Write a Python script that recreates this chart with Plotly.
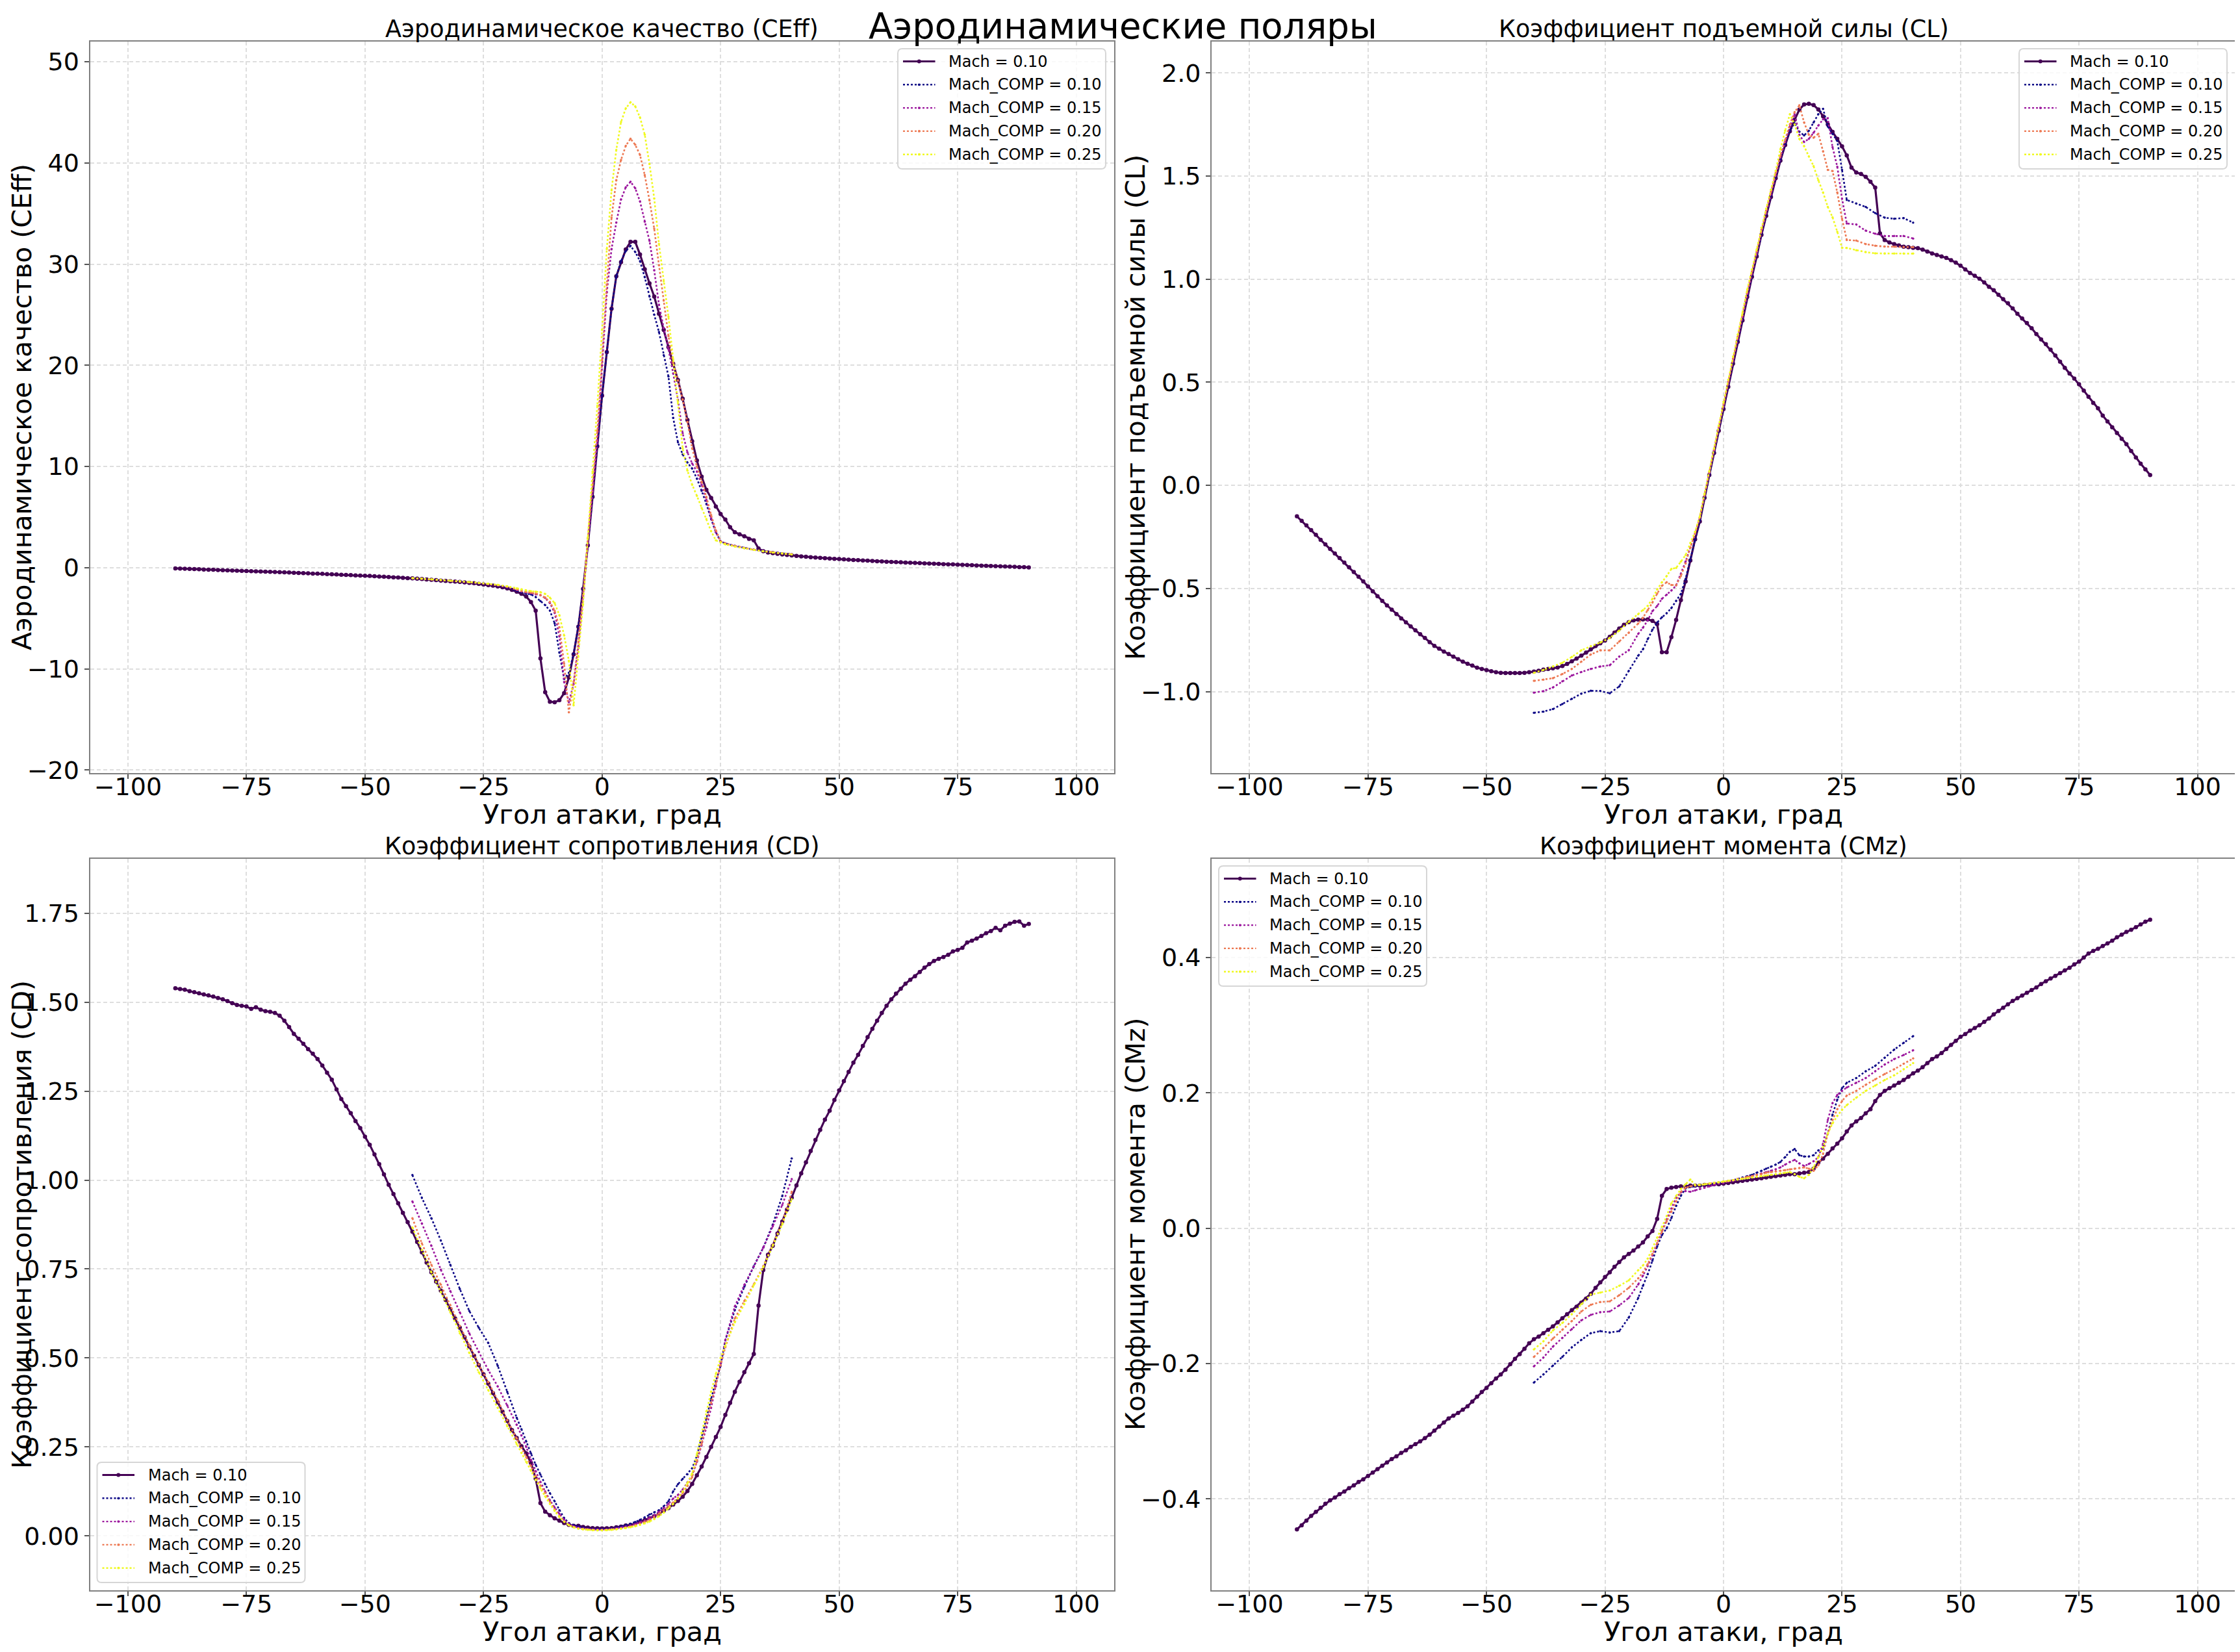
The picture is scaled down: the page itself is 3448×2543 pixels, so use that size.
import plotly.graph_objects as go

# ---------------- data ----------------
MAIN_X = list(range(-90, 91))
COMP_X = [-40, -38, -36, -34, -32, -30, -28, -26, -24, -22, -20, -18] + list(range(-17, 27)) + [28, 30, 32, 34, 36, 38, 40]

MACH_LABELS = ["Mach = 0.10", "Mach_COMP = 0.10", "Mach_COMP = 0.15", "Mach_COMP = 0.20", "Mach_COMP = 0.25"]

CEFF_MAIN = [
    -0.07, -0.09, -0.11, -0.12, -0.14, -0.16, -0.18, -0.20, -0.21, -0.23,
    -0.25, -0.26, -0.28, -0.30, -0.31, -0.33, -0.35, -0.36, -0.38, -0.40,
    -0.41, -0.42, -0.44, -0.46, -0.48, -0.50, -0.52, -0.54, -0.56, -0.58,
    -0.59, -0.61, -0.63, -0.65, -0.67, -0.70, -0.72, -0.74, -0.76, -0.78,
    -0.80, -0.82, -0.85, -0.87, -0.90, -0.92, -0.95, -0.97, -1.00, -1.03,
    -1.06, -1.09, -1.12, -1.16, -1.20, -1.23, -1.27, -1.31, -1.34, -1.38,
    -1.41, -1.45, -1.50, -1.54, -1.60, -1.66, -1.72, -1.78, -1.85, -1.94,
    -2.05, -2.20, -2.37, -2.58, -2.85, -3.39, -4.24, -8.96, -12.3, -13.25,
    -13.3, -13.1, -12.4, -10.85, -8.57, -5.83, -2.1, 2.2, 7.0, 12.0,
    17.0, 21.3, 25.6, 28.8, 30.2, 31.45, 32.2, 32.2, 30.95, 29.5,
    28.1, 26.8, 25.1, 23.5, 21.8, 20.15, 18.55, 16.7, 14.6, 12.5,
    10.6, 9.0, 7.7, 6.9, 6.05, 5.3, 4.75, 4.0, 3.5, 3.3,
    3.1, 2.85, 2.7, 1.9, 1.62, 1.5, 1.44, 1.37, 1.31, 1.26,
    1.21, 1.17, 1.12, 1.08, 1.04, 1.00, 0.97, 0.94, 0.91, 0.88,
    0.85, 0.82, 0.79, 0.76, 0.74, 0.71, 0.69, 0.66, 0.64, 0.61,
    0.59, 0.57, 0.55, 0.53, 0.51, 0.49, 0.47, 0.45, 0.43, 0.41,
    0.39, 0.37, 0.35, 0.33, 0.32, 0.30, 0.28, 0.26, 0.24, 0.22,
    0.20, 0.18, 0.17, 0.15, 0.13, 0.12, 0.10, 0.08, 0.06, 0.05,
    0.03,
]
CEFF_C010 = [-1.05, -1.11, -1.18, -1.25, -1.32, -1.39, -1.47, -1.56, -1.67, -1.80, -1.98, -2.28,
             -2.45, -2.55, -2.65, -2.9, -3.3, -3.7, -4.24, -5.5, -8.4, -11.0, -10.4, -8.5, -5.8, -2.1, 2.2, 7.0, 12.0,
             17.0, 21.3, 25.6, 28.8, 30.3, 31.3, 31.8, 31.2, 30.3, 28.7, 26.8, 25.0, 23.3, 21.0,
             18.9, 14.8, 12.4, 11.2, 10.4, 9.8, 8.8, 7.6, 6.3, 4.8, 3.5, 2.6, 2.4,
             2.15, 1.95, 1.78, 1.64, 1.52, 1.42, 1.33]
CEFF_C015 = [-1.04, -1.10, -1.17, -1.24, -1.31, -1.37, -1.45, -1.54, -1.64, -1.76, -1.93, -2.20,
             -2.35, -2.45, -2.52, -2.62, -2.72, -3.0, -3.5, -4.46, -6.8, -11.3, -13.3, -11.5, -7.8, -2.8, 2.5, 7.5, 12.5,
             20.0, 27.2, 31.5, 34.1, 36.4, 37.6, 38.15, 37.5, 36.2, 34.2, 32.3, 29.4, 26.0, 23.7,
             21.6, 19.2, 16.6, 13.3, 11.4, 10.3, 9.5, 8.2, 6.7, 4.9, 3.5, 2.6, 2.4,
             2.15, 1.95, 1.78, 1.64, 1.52, 1.42, 1.33]
CEFF_C020 = [-1.04, -1.09, -1.16, -1.23, -1.30, -1.36, -1.44, -1.52, -1.62, -1.73, -1.89, -2.15,
             -2.3, -2.4, -2.46, -2.55, -2.7, -2.95, -3.39, -4.24, -5.9, -9.5, -14.3, -11.3, -7.3, -2.7, 2.9, 8.2, 13.5,
             20.5, 28.0, 34.6, 38.3, 40.3, 41.7, 42.4, 41.8, 40.8, 38.8, 36.3, 33.5, 29.9, 26.4,
             22.9, 20.2, 18.5, 16.6, 14.4, 11.8, 10.0, 8.5, 7.0, 5.2, 3.7, 2.6, 2.4,
             2.14, 1.94, 1.77, 1.63, 1.51, 1.41, 1.32]
CEFF_C025 = [-1.03, -1.09, -1.15, -1.22, -1.29, -1.35, -1.42, -1.50, -1.59, -1.70, -1.84, -2.05,
             -2.15, -2.25, -2.32, -2.37, -2.42, -2.6, -2.96, -3.5, -4.7, -6.7, -9.2, -13.6, -8.8, -3.6, 3.0, 9.5, 16.0,
             23.5, 31.5, 37.3, 41.3, 44.05, 45.4, 46.0, 45.6, 44.5, 42.8, 39.9, 36.5, 32.0, 28.3,
             24.8, 20.6, 16.4, 11.8, 9.6, 8.2, 7.1, 5.9, 4.8, 3.6, 2.7, 2.5, 2.3,
             2.1, 1.92, 1.76, 1.62, 1.50, 1.40, 1.31]

CL_MAIN = [
    -0.150, -0.172, -0.194, -0.217, -0.240, -0.264, -0.286, -0.308, -0.330, -0.352,
    -0.374, -0.397, -0.420, -0.443, -0.466, -0.490, -0.514, -0.537, -0.560, -0.582,
    -0.603, -0.624, -0.645, -0.664, -0.684, -0.703, -0.722, -0.740, -0.760, -0.778,
    -0.792, -0.806, -0.818, -0.830, -0.843, -0.855, -0.865, -0.874, -0.884, -0.890,
    -0.896, -0.901, -0.906, -0.909, -0.910, -0.910, -0.910, -0.910, -0.909, -0.906,
    -0.903, -0.899, -0.893, -0.890, -0.887, -0.883, -0.876, -0.866, -0.853, -0.840,
    -0.826, -0.811, -0.795, -0.779, -0.766, -0.752, -0.734, -0.714, -0.694, -0.676,
    -0.663, -0.655, -0.651, -0.650, -0.650, -0.657, -0.673, -0.809, -0.809, -0.736,
    -0.652, -0.556, -0.466, -0.364, -0.262, -0.175, -0.060, 0.050, 0.157, 0.265,
    0.370, 0.478, 0.590, 0.696, 0.800, 0.914, 1.012, 1.110, 1.215, 1.307,
    1.398, 1.490, 1.575, 1.650, 1.717, 1.773, 1.822, 1.847, 1.850, 1.844,
    1.823, 1.790, 1.750, 1.714, 1.680, 1.644, 1.600, 1.541, 1.517, 1.510,
    1.496, 1.472, 1.444, 1.222, 1.190, 1.178, 1.170, 1.164, 1.157, 1.155,
    1.152, 1.150, 1.143, 1.134, 1.124, 1.117, 1.110, 1.103, 1.092, 1.080,
    1.065, 1.047, 1.030, 1.016, 1.002, 0.984, 0.963, 0.946, 0.924, 0.903,
    0.883, 0.858, 0.832, 0.809, 0.787, 0.762, 0.734, 0.708, 0.685, 0.658,
    0.630, 0.600, 0.570, 0.542, 0.518, 0.490, 0.460, 0.430, 0.400, 0.374,
    0.338, 0.310, 0.282, 0.254, 0.226, 0.200, 0.167, 0.135, 0.105, 0.078,
    0.050,
]
CL_C010 = [-1.103, -1.097, -1.085, -1.06, -1.035, -1.01, -0.996, -0.997, -1.008, -0.975, -0.90, -0.826,
           -0.795, -0.745, -0.70, -0.665, -0.64, -0.62, -0.595, -0.56, -0.526, -0.453, -0.36, -0.265, -0.17, -0.06, 0.05, 0.16, 0.27,
           0.375, 0.483, 0.593, 0.70, 0.805, 0.918, 1.017, 1.115, 1.22, 1.312, 1.403, 1.494, 1.58, 1.655,
           1.72, 1.755, 1.715, 1.697, 1.72, 1.76, 1.80, 1.826, 1.74, 1.705, 1.67, 1.53, 1.384,
           1.367, 1.35, 1.32, 1.298, 1.293, 1.296, 1.274]
CL_C015 = [-1.005, -0.998, -0.98, -0.95, -0.922, -0.905, -0.89, -0.878, -0.872, -0.83, -0.80, -0.72,
           -0.69, -0.655, -0.61, -0.585, -0.55, -0.53, -0.51, -0.485, -0.43, -0.369, -0.30, -0.235, -0.155, -0.05, 0.06, 0.17, 0.28,
           0.385, 0.493, 0.605, 0.711, 0.815, 0.929, 1.027, 1.125, 1.23, 1.322, 1.413, 1.505, 1.59, 1.665,
           1.74, 1.80, 1.70, 1.665, 1.68, 1.71, 1.745, 1.775, 1.78, 1.64, 1.545, 1.39, 1.27,
           1.265, 1.235, 1.22, 1.209, 1.209, 1.209, 1.197]
CL_C020 = [-0.948, -0.942, -0.935, -0.915, -0.89, -0.855, -0.82, -0.80, -0.80, -0.757, -0.715, -0.67,
           -0.642, -0.605, -0.568, -0.525, -0.487, -0.47, -0.483, -0.484, -0.44, -0.379, -0.30, -0.235, -0.155, -0.045, 0.065, 0.175, 0.285,
           0.395, 0.503, 0.615, 0.721, 0.825, 0.939, 1.037, 1.135, 1.24, 1.332, 1.423, 1.515, 1.60, 1.675,
           1.75, 1.81, 1.843, 1.76, 1.70, 1.686, 1.705, 1.62, 1.53, 1.524, 1.42, 1.293, 1.19,
           1.187, 1.17, 1.162, 1.158, 1.157, 1.156, 1.155]
CL_C025 = [-0.909, -0.895, -0.878, -0.86, -0.832, -0.80, -0.78, -0.762, -0.74, -0.704, -0.662, -0.625,
           -0.605, -0.585, -0.55, -0.505, -0.47, -0.44, -0.405, -0.40, -0.37, -0.338, -0.28, -0.225, -0.15, -0.04, 0.07, 0.18, 0.29,
           0.405, 0.513, 0.625, 0.731, 0.835, 0.949, 1.047, 1.145, 1.25, 1.342, 1.433, 1.525, 1.63, 1.72,
           1.80, 1.75, 1.68, 1.645, 1.595, 1.548, 1.48, 1.42, 1.35, 1.30, 1.23, 1.152, 1.151,
           1.14, 1.131, 1.125, 1.124, 1.124, 1.124, 1.124]

CD_MAIN = [
    1.539, 1.537, 1.535, 1.531, 1.528, 1.525, 1.522, 1.519, 1.516, 1.512,
    1.508, 1.503, 1.497, 1.492, 1.490, 1.488, 1.481, 1.486, 1.479, 1.475,
    1.473, 1.470, 1.462, 1.448, 1.430, 1.411, 1.397, 1.383, 1.368, 1.355,
    1.340, 1.322, 1.302, 1.282, 1.255, 1.228, 1.208, 1.188, 1.166, 1.146,
    1.122, 1.099, 1.072, 1.045, 1.016, 0.987, 0.961, 0.935, 0.908, 0.882,
    0.855, 0.826, 0.797, 0.768, 0.741, 0.715, 0.689, 0.663, 0.637, 0.611,
    0.585, 0.558, 0.532, 0.506, 0.480, 0.454, 0.428, 0.401, 0.375, 0.349,
    0.323, 0.297, 0.275, 0.252, 0.232, 0.205, 0.161, 0.092, 0.068, 0.058,
    0.049, 0.043, 0.036, 0.031, 0.028, 0.028, 0.025, 0.023, 0.022, 0.0215,
    0.021, 0.0215, 0.022, 0.024, 0.026, 0.029, 0.031, 0.034, 0.039, 0.044,
    0.049, 0.055, 0.062, 0.070, 0.078, 0.088, 0.098, 0.110, 0.126, 0.146,
    0.170, 0.195, 0.222, 0.250, 0.278, 0.306, 0.340, 0.374, 0.405, 0.433,
    0.460, 0.485, 0.511, 0.647, 0.747, 0.790, 0.815, 0.850, 0.883, 0.917,
    0.951, 0.985, 1.019, 1.050, 1.082, 1.113, 1.141, 1.170, 1.195, 1.225,
    1.252, 1.278, 1.304, 1.330, 1.352, 1.377, 1.402, 1.425, 1.448, 1.470,
    1.490, 1.508, 1.524, 1.538, 1.552, 1.563, 1.573, 1.585, 1.597, 1.607,
    1.616, 1.622, 1.627, 1.633, 1.643, 1.647, 1.653, 1.668, 1.673, 1.679,
    1.686, 1.694, 1.700, 1.709, 1.702, 1.715, 1.721, 1.726, 1.727, 1.715,
    1.720,
]
CD_C010 = [1.014, 0.95, 0.893, 0.83, 0.762, 0.694, 0.632, 0.585, 0.542, 0.478, 0.405, 0.332,
           0.30, 0.265, 0.232, 0.20, 0.172, 0.145, 0.12, 0.097, 0.072, 0.05, 0.036, 0.03, 0.026, 0.023, 0.021, 0.02, 0.0195,
           0.0195, 0.02, 0.021, 0.023, 0.026, 0.03, 0.034, 0.039, 0.045, 0.052, 0.06, 0.066, 0.072, 0.083,
           0.097, 0.125, 0.145, 0.16, 0.173, 0.19, 0.225, 0.275, 0.33, 0.385, 0.435, 0.478, 0.55,
           0.635, 0.70, 0.758, 0.81, 0.875, 0.955, 1.061]
CD_C015 = [0.94, 0.878, 0.815, 0.748, 0.688, 0.628, 0.569, 0.517, 0.466, 0.42, 0.367, 0.312,
           0.282, 0.25, 0.214, 0.182, 0.152, 0.125, 0.10, 0.08, 0.062, 0.045, 0.034, 0.027, 0.023, 0.021, 0.019, 0.018, 0.0175,
           0.0175, 0.018, 0.019, 0.021, 0.023, 0.026, 0.029, 0.033, 0.038, 0.043, 0.05, 0.058, 0.068, 0.078,
           0.09, 0.105, 0.115, 0.13, 0.15, 0.172, 0.208, 0.255, 0.305, 0.36, 0.42, 0.485, 0.55,
           0.645, 0.705, 0.757, 0.81, 0.87, 0.93, 1.003]
CD_C020 = [0.893, 0.822, 0.762, 0.706, 0.648, 0.59, 0.535, 0.482, 0.432, 0.381, 0.325, 0.274,
           0.248, 0.222, 0.196, 0.168, 0.142, 0.121, 0.096, 0.075, 0.055, 0.04, 0.03, 0.025, 0.021, 0.019, 0.018, 0.017, 0.0165,
           0.0165, 0.017, 0.018, 0.019, 0.021, 0.023, 0.026, 0.03, 0.034, 0.039, 0.045, 0.053, 0.062, 0.072,
           0.082, 0.094, 0.107, 0.12, 0.14, 0.165, 0.21, 0.26, 0.32, 0.375, 0.43, 0.48, 0.53,
           0.611, 0.66, 0.707, 0.758, 0.818, 0.88, 0.967]
CD_C025 = [0.867, 0.803, 0.741, 0.686, 0.628, 0.569, 0.514, 0.46, 0.41, 0.36, 0.308, 0.258,
           0.233, 0.208, 0.183, 0.158, 0.133, 0.111, 0.09, 0.07, 0.053, 0.04, 0.03, 0.024, 0.02, 0.018, 0.017, 0.016, 0.0155,
           0.0155, 0.016, 0.017, 0.018, 0.02, 0.022, 0.024, 0.027, 0.031, 0.035, 0.04, 0.047, 0.055, 0.065,
           0.077, 0.09, 0.105, 0.125, 0.148, 0.175, 0.23, 0.29, 0.35, 0.405, 0.455, 0.5, 0.535,
           0.6, 0.652, 0.705, 0.755, 0.815, 0.875, 0.946]

CMZ_MAIN = [
    -0.445, -0.439, -0.432, -0.425, -0.419, -0.413, -0.407, -0.402, -0.398, -0.393,
    -0.389, -0.384, -0.380, -0.375, -0.371, -0.366, -0.361, -0.356, -0.351, -0.346,
    -0.341, -0.337, -0.332, -0.328, -0.323, -0.319, -0.315, -0.310, -0.305, -0.299,
    -0.293, -0.287, -0.281, -0.277, -0.273, -0.268, -0.263, -0.256, -0.249, -0.242,
    -0.236, -0.229, -0.222, -0.216, -0.209, -0.201, -0.193, -0.186, -0.178, -0.170,
    -0.164, -0.160, -0.155, -0.150, -0.145, -0.139, -0.133, -0.127, -0.121, -0.116,
    -0.110, -0.104, -0.097, -0.088, -0.080, -0.072, -0.065, -0.057, -0.050, -0.043,
    -0.038, -0.033, -0.027, -0.021, -0.012, -0.004, 0.014, 0.048, 0.058, 0.060,
    0.061, 0.062, 0.062, 0.063, 0.063, 0.063, 0.064, 0.064, 0.065, 0.065,
    0.066, 0.067, 0.068, 0.069, 0.070, 0.071, 0.072, 0.073, 0.074, 0.075,
    0.076, 0.077, 0.078, 0.079, 0.080, 0.080, 0.081, 0.082, 0.083, 0.088,
    0.097, 0.103, 0.110, 0.118, 0.125, 0.133, 0.143, 0.152, 0.158, 0.163,
    0.170, 0.176, 0.188, 0.197, 0.203, 0.207, 0.211, 0.215, 0.219, 0.224,
    0.229, 0.233, 0.238, 0.244, 0.250, 0.254, 0.259, 0.265, 0.271, 0.277,
    0.283, 0.287, 0.292, 0.296, 0.300, 0.305, 0.310, 0.316, 0.321, 0.326,
    0.331, 0.336, 0.340, 0.344, 0.348, 0.352, 0.356, 0.361, 0.365, 0.369,
    0.373, 0.377, 0.381, 0.385, 0.390, 0.394, 0.400, 0.406, 0.410, 0.413,
    0.417, 0.421, 0.425, 0.430, 0.434, 0.438, 0.441, 0.445, 0.449, 0.453,
    0.456,
]
CMZ_C010 = [-0.228, -0.216, -0.203, -0.19, -0.176, -0.165, -0.155, -0.152, -0.154, -0.152, -0.132, -0.103,
            -0.085, -0.068, -0.048, -0.027, -0.01, 0.0, 0.015, 0.033, 0.048, 0.059, 0.061, 0.062, 0.063, 0.064, 0.065, 0.066, 0.067,
            0.068, 0.07, 0.071, 0.073, 0.075, 0.077, 0.079, 0.082, 0.085, 0.088, 0.091, 0.094, 0.098, 0.105,
            0.113, 0.117, 0.108, 0.106, 0.106, 0.108, 0.115, 0.118, 0.14, 0.168, 0.19, 0.207, 0.215,
            0.222, 0.232, 0.24, 0.252, 0.264, 0.274, 0.284]
CMZ_C015 = [-0.204, -0.191, -0.175, -0.162, -0.149, -0.136, -0.128, -0.124, -0.123, -0.114, -0.103, -0.083,
            -0.07, -0.056, -0.04, -0.022, -0.004, 0.013, 0.029, 0.045, 0.053, 0.055, 0.054, 0.056, 0.058, 0.06, 0.062, 0.064, 0.066,
            0.067, 0.069, 0.07, 0.072, 0.073, 0.075, 0.077, 0.079, 0.081, 0.083, 0.085, 0.087, 0.09, 0.094,
            0.098, 0.101, 0.096, 0.092, 0.095, 0.099, 0.105, 0.125, 0.16, 0.185, 0.197, 0.203, 0.208,
            0.215, 0.222, 0.232, 0.242, 0.25, 0.256, 0.263]
CMZ_C020 = [-0.19, -0.177, -0.163, -0.15, -0.137, -0.123, -0.113, -0.109, -0.108, -0.099, -0.088, -0.074,
            -0.065, -0.053, -0.038, -0.022, -0.005, 0.01, 0.025, 0.04, 0.054, 0.06, 0.062, 0.063, 0.064, 0.065, 0.066, 0.067, 0.068,
            0.069, 0.07, 0.071, 0.073, 0.074, 0.076, 0.077, 0.079, 0.08, 0.082, 0.083, 0.084, 0.085, 0.086,
            0.087, 0.088, 0.089, 0.09, 0.088, 0.085, 0.093, 0.11, 0.14, 0.16, 0.176, 0.188, 0.196,
            0.203, 0.212, 0.22, 0.228, 0.235, 0.243, 0.251]
CMZ_C025 = [-0.179, -0.167, -0.151, -0.14, -0.127, -0.112, -0.098, -0.095, -0.092, -0.085, -0.077, -0.062,
            -0.055, -0.045, -0.03, -0.014, 0.002, 0.018, 0.037, 0.048, 0.058, 0.065, 0.072, 0.064, 0.064, 0.065, 0.066, 0.067, 0.068,
            0.069, 0.07, 0.071, 0.072, 0.073, 0.074, 0.075, 0.076, 0.077, 0.078, 0.079, 0.08, 0.081, 0.082,
            0.083, 0.08, 0.076, 0.074, 0.079, 0.09, 0.105, 0.12, 0.14, 0.155, 0.166, 0.175, 0.182,
            0.193, 0.203, 0.211, 0.219, 0.226, 0.235, 0.244]

X_TICKS = [-100, -75, -50, -25, 0, 25, 50, 75, 100]

PANELS = [
    dict(title="Аэродинамическое качество (CEff)", ylabel="Аэродинамическое качество (CEff)",
         main=CEFF_MAIN, comp=[CEFF_C010, CEFF_C015, CEFF_C020, CEFF_C025],
         yrange=[-20.3, 52.0], yticks=[-20, -10, 0, 10, 20, 30, 40, 50], fmt="d"),
    dict(title="Коэффициент подъемной силы (CL)", ylabel="Коэффициент подъемной силы (CL)",
         main=CL_MAIN, comp=[CL_C010, CL_C015, CL_C020, CL_C025],
         yrange=[-1.395, 2.152], yticks=[-1.0, -0.5, 0.0, 0.5, 1.0, 1.5, 2.0], fmt=".1f"),
    dict(title="Коэффициент сопротивления (CD)", ylabel="Коэффициент сопротивления (CD)",
         main=CD_MAIN, comp=[CD_C010, CD_C015, CD_C020, CD_C025],
         yrange=[-0.153, 1.903], yticks=[0.0, 0.25, 0.5, 0.75, 1.0, 1.25, 1.5, 1.75], fmt=".2f"),
    dict(title="Коэффициент момента (CMz)", ylabel="Коэффициент момента (CMz)",
         main=CMZ_MAIN, comp=[CMZ_C010, CMZ_C015, CMZ_C020, CMZ_C025],
         yrange=[-0.535, 0.546], yticks=[-0.4, -0.2, 0.0, 0.2, 0.4], fmt=".1f"),
]

for p in PANELS:
    assert len(p["main"]) == len(MAIN_X), (p["title"], len(p["main"]))
    for c in p["comp"]:
        assert len(c) == len(COMP_X), (p["title"], len(c))

# ---------------- style ----------------
W, H = 3448, 2543          # browser window
OFF = 8                    # default <body> margin of the written page
FW, FH = W - OFF, H - OFF  # figure size so it fits the window exactly
FONT = "DejaVu Sans"
MAIN_COLOR = "#440154"
COMP_COLORS = ["#0d0887", "#9c179e", "#ed7953", "#f0f921"]
SERIES_COLORS = [MAIN_COLOR] + COMP_COLORS


def px(x):
    """screen pixel x -> paper fraction"""
    return (x - OFF) / FW


def py(y):
    """screen pixel y (from top) -> paper fraction"""
    return 1 - (y - OFF) / FH


def pt(x, y):
    return f"{px(x):.6f},{py(y):.6f}"


AX_L = [138.5, 1865.0]
AX_R = [1715.0, 3441.0]
AX_T = [64.0, 1322.0]
AX_B = [1190.0, 2448.0]
XDOM = [[px(AX_L[c]), px(AX_R[c])] for c in range(2)]
YDOM = [[py(AX_B[r]), py(AX_T[r])] for r in range(2)]

LEG_W, LEG_H = 320.0, 185.0
LEG_POS = [
    (AX_R[0] - 13 - LEG_W, AX_T[0] + 11),
    (AX_R[1] - 13 - LEG_W, AX_T[0] + 11),
    (AX_L[0] + 11, AX_B[1] - 12 - LEG_H),
    (AX_L[1] + 11, AX_T[1] + 11),
]
YTITLE_X = [34, 1748, 34, 1748]

fig = go.Figure()
layout = dict(width=FW, height=FH, margin=dict(l=0, r=0, t=0, b=0), autosize=False,
              paper_bgcolor="white", plot_bgcolor="white",
              font=dict(family=FONT, color="black"), showlegend=False)
annotations = []
shapes = []

for i, p in enumerate(PANELS):
    k = i + 1
    col = i % 2
    row = i // 2
    xa = "x" if k == 1 else f"x{k}"
    ya = "y" if k == 1 else f"y{k}"

    fig.add_trace(go.Scatter(
        x=MAIN_X, y=p["main"], mode="lines+markers", name=MACH_LABELS[0],
        line=dict(color=MAIN_COLOR, width=3.2), marker=dict(size=6.5, color=MAIN_COLOR),
        xaxis=xa, yaxis=ya))
    for j, c in enumerate(p["comp"]):
        fig.add_trace(go.Scatter(
            x=COMP_X, y=c, mode="lines+markers", name=MACH_LABELS[j + 1],
            line=dict(color=COMP_COLORS[j], width=2.6, dash="dot"),
            marker=dict(size=3.5, color=COMP_COLORS[j]),
            xaxis=xa, yaxis=ya))

    axis_common = dict(showline=True, linecolor="#808080", linewidth=2, mirror=True,
                       showgrid=True, gridcolor="#dedede", gridwidth=1.5, griddash="6px,4px",
                       zeroline=False, ticks="outside", ticklen=7, tickwidth=1.5, tickcolor="#555555",
                       tickfont=dict(family=FONT, size=38, color="black"), automargin=False)
    layout["xaxis" if k == 1 else f"xaxis{k}"] = dict(
        axis_common, domain=XDOM[col], anchor=ya, range=[-108, 108], ticklabelstandoff=-21,
        tickmode="array", tickvals=X_TICKS, ticktext=[("−" + str(-v)) if v < 0 else str(v) for v in X_TICKS])
    yt = p["yticks"]
    if p["fmt"] == "d":
        ytext = [("−" + str(-v)) if v < 0 else str(v) for v in yt]
    else:
        ytext = [("−" if v < 0 else "") + format(abs(v), p["fmt"]) for v in yt]
    layout["yaxis" if k == 1 else f"yaxis{k}"] = dict(
        axis_common, domain=YDOM[row], anchor=xa, range=p["yrange"],
        tickmode="array", tickvals=yt, ticktext=ytext)

    # ---- legend box drawn by hand (matplotlib-like) ----
    bx, by = LEG_POS[i]
    l, t, R, B, r = bx, by, bx + LEG_W, by + LEG_H, 7
    path = (f"M{pt(l + r, t)} L{pt(R - r, t)} Q{pt(R, t)} {pt(R, t + r)} L{pt(R, B - r)} "
            f"Q{pt(R, B)} {pt(R - r, B)} L{pt(l + r, B)} Q{pt(l, B)} {pt(l, B - r)} "
            f"L{pt(l, t + r)} Q{pt(l, t)} {pt(l + r, t)} Z")
    shapes.append(dict(type="path", xref="paper", yref="paper", path=path,
                       fillcolor="rgba(255,255,255,0.8)", line=dict(color="#d6d6d6", width=2), layer="above"))
    for j, lab in enumerate(MACH_LABELS):
        ry = by + 19.5 + 35.8 * j
        x0, x1 = bx + 8, bx + 57.5
        shapes.append(dict(type="line", xref="paper", yref="paper", x0=px(x0), x1=px(x1), y0=py(ry), y1=py(ry),
                           line=dict(color=SERIES_COLORS[j], width=3.0 if j == 0 else 2.4,
                                     dash="solid" if j == 0 else "dot"), layer="above"))
        cx = (x0 + x1) / 2
        rr = 3.0 if j == 0 else 1.9
        shapes.append(dict(type="circle", xref="paper", yref="paper", x0=px(cx - rr), x1=px(cx + rr),
                           y0=py(ry + rr), y1=py(ry - rr), fillcolor=SERIES_COLORS[j],
                           line=dict(width=0), layer="above"))
        annotations.append(dict(text=lab, x=px(bx + 76), y=py(ry), xref="paper", yref="paper",
                                xanchor="left", yanchor="middle", showarrow=False,
                                font=dict(family=FONT, size=24, color="black")))

    xc = (XDOM[col][0] + XDOM[col][1]) / 2
    yc = (YDOM[row][0] + YDOM[row][1]) / 2
    annotations.append(dict(text=p["title"], x=xc, y=YDOM[row][1], xref="paper", yref="paper",
                            xanchor="center", yanchor="bottom", yshift=-4, showarrow=False,
                            font=dict(family=FONT, size=36.5, color="black")))
    annotations.append(dict(text="Угол атаки, град", x=xc, y=py(1253 if row == 0 else 2511),
                            xref="paper", yref="paper", xanchor="center", yanchor="middle",
                            showarrow=False, font=dict(family=FONT, size=41.5, color="black")))
    annotations.append(dict(text=p["ylabel"], x=px(YTITLE_X[i]), y=yc, xref="paper", yref="paper",
                            xanchor="center", yanchor="middle", textangle=-90, showarrow=False,
                            font=dict(family=FONT, size=41, color="black")))

annotations.append(dict(text="Аэродинамические поляры", x=0.5, y=1.0, xref="paper", yref="paper",
                        xanchor="center", yanchor="top", yshift=2, showarrow=False,
                        font=dict(family=FONT, size=54.5, color="black")))
layout["annotations"] = annotations
layout["shapes"] = shapes
fig.update_layout(**layout)
fig.write_html("out.html")
